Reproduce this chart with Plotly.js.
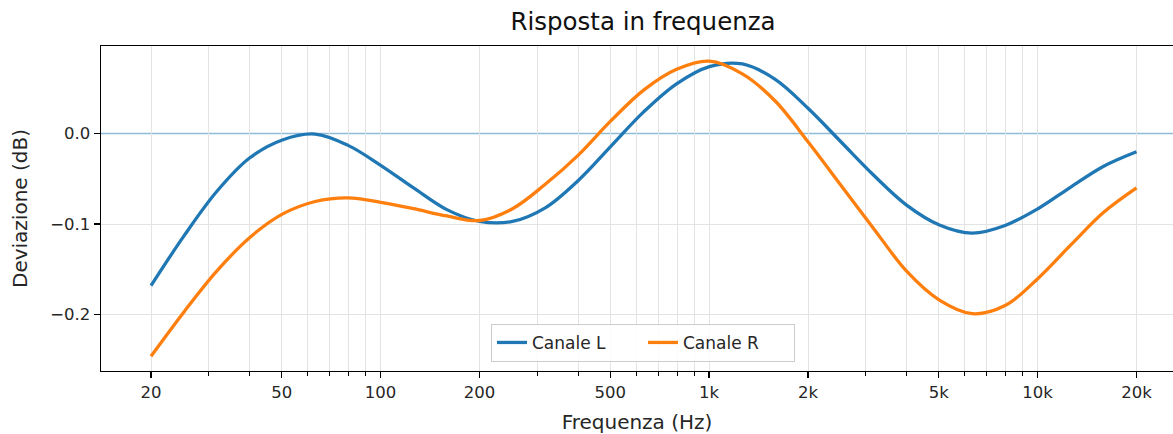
<!DOCTYPE html>
<html>
<head>
<meta charset="utf-8">
<script src="https://cdn.plot.ly/plotly-3.0.1.min.js"></script>
<style>html,body{margin:0;padding:0;background:#fff;}#chart{width:1173px;height:434px;}</style>
</head>
<body>
<div id="chart"></div>
<script>
// Frequencies (Hz), read at 1/10-decade steps
const freq = [20, 25.2, 31.7, 39.9, 50.2, 63.2, 79.6, 100, 126, 159, 200, 252, 317, 399, 502, 632, 796, 1002, 1262, 1589, 2000, 2518, 3170, 3991, 5024, 6325, 7962, 10024, 12619, 15887, 20000];
// Canale L (dB)
const valL = [-0.168, -0.113, -0.064, -0.027, -0.007, -0.0005, -0.013, -0.035, -0.060, -0.084, -0.097, -0.097, -0.082, -0.052, -0.014, 0.024, 0.055, 0.074, 0.077, 0.060, 0.028, -0.009, -0.046, -0.079, -0.101, -0.110, -0.1015, -0.083, -0.059, -0.036, -0.020];
// Canale R (dB)
const valR = [-0.246, -0.197, -0.152, -0.115, -0.089, -0.075, -0.071, -0.076, -0.083, -0.091, -0.096, -0.083, -0.056, -0.024, 0.014, 0.048, 0.071, 0.080, 0.066, 0.036, -0.009, -0.057, -0.105, -0.152, -0.184, -0.199, -0.190, -0.160, -0.123, -0.087, -0.060];

const seriesNames = ["Canale L", "Canale R"];
const xTickVals = [20, 50, 100, 200, 500, 1000, 2000, 5000, 10000, 20000];
const xTickText = ["20", "50", "100", "200", "500", "1k", "2k", "5k", "10k", "20k"];
const xMinorVals = [30, 40, 60, 70, 80, 90, 300, 400, 600, 700, 800, 900, 3000, 4000, 6000, 7000, 8000, 9000];
const yTickVals = [-0.2, -0.1, 0.0];
const yTickText = ["\u22120.2", "\u22120.1", "0.0"];
const yGridVals = [-0.2, -0.1];

const FONT = "DejaVu Sans, sans-serif";
const TXT = "#262626";
const traces = [
  {x: freq, y: valL, name: seriesNames[0], type: "scatter", mode: "lines",
   line: {color: "#1f77b4", width: 3.3, shape: "spline", smoothing: 1}},
  {x: freq, y: valR, name: seriesNames[1], type: "scatter", mode: "lines",
   line: {color: "#ff7f0e", width: 3.3, shape: "spline", smoothing: 1}}
];

const layout = {
  width: 1173, height: 434,
  margin: {l: 101, r: 0, t: 46, b: 63},
  paper_bgcolor: "#fff", plot_bgcolor: "#fff",
  font: {family: FONT, size: 16, color: TXT},
  title: {text: "Risposta in frequenza", font: {family: FONT, size: 24.5, color: "#111"},
          x: 0.5056, xref: "paper", xanchor: "center", y: 0.95, yref: "container", yanchor: "middle"},
  showlegend: true,
  legend: {orientation: "h", x: 0.5056, xanchor: "center", y: 0.028, yanchor: "bottom",
           bgcolor: "rgba(255,255,255,0.85)", bordercolor: "#cccccc", borderwidth: 1,
           font: {family: FONT, size: 17, color: TXT}, entrywidth: 106, traceorder: "normal"},
  xaxis: {
    type: "log", range: [1.1488, 4.4121],
    tickvals: xTickVals, ticktext: xTickText,
    ticks: "outside", ticklen: 6, tickwidth: 1.3, tickcolor: "#000",
    showline: true, linecolor: "#000", linewidth: 1.4, mirror: true,
    showgrid: true, gridcolor: "#e3e3e3", gridwidth: 1,
    zeroline: false,
    tickfont: {family: FONT, size: 16.5, color: TXT},
    minor: {tickvals: xMinorVals, ticks: "outside", ticklen: 3.5, tickwidth: 1, tickcolor: "#000",
            showgrid: true, gridcolor: "#e3e3e3", gridwidth: 1},
    title: {text: "Frequenza (Hz)", font: {family: FONT, size: 20, color: TXT}, standoff: 14}
  },
  yaxis: {
    range: [-0.2623, 0.0968],
    tickvals: yTickVals, ticktext: yTickText,
    ticks: "outside", ticklen: 6, tickwidth: 1.3, tickcolor: "#000",
    showline: true, linecolor: "#000", linewidth: 1.4, mirror: false,
    showgrid: false,
    zeroline: false,
    tickfont: {family: FONT, size: 16.5, color: TXT},
    minor: {tickvals: yGridVals, ticks: "", showgrid: true, gridcolor: "#e3e3e3", gridwidth: 1},
    title: {text: "Deviazione (dB)", font: {family: FONT, size: 20, color: TXT}, standoff: 17}
  },
  shapes: [
    {type: "line", xref: "paper", x0: 0, x1: 1, yref: "y", y0: 0, y1: 0,
     line: {color: "rgba(31,119,180,0.5)", width: 1.5}, layer: "below"}
  ]
};

Plotly.newPlot("chart", traces, layout, {displayModeBar: false, staticPlot: true});
</script>
</body>
</html>
